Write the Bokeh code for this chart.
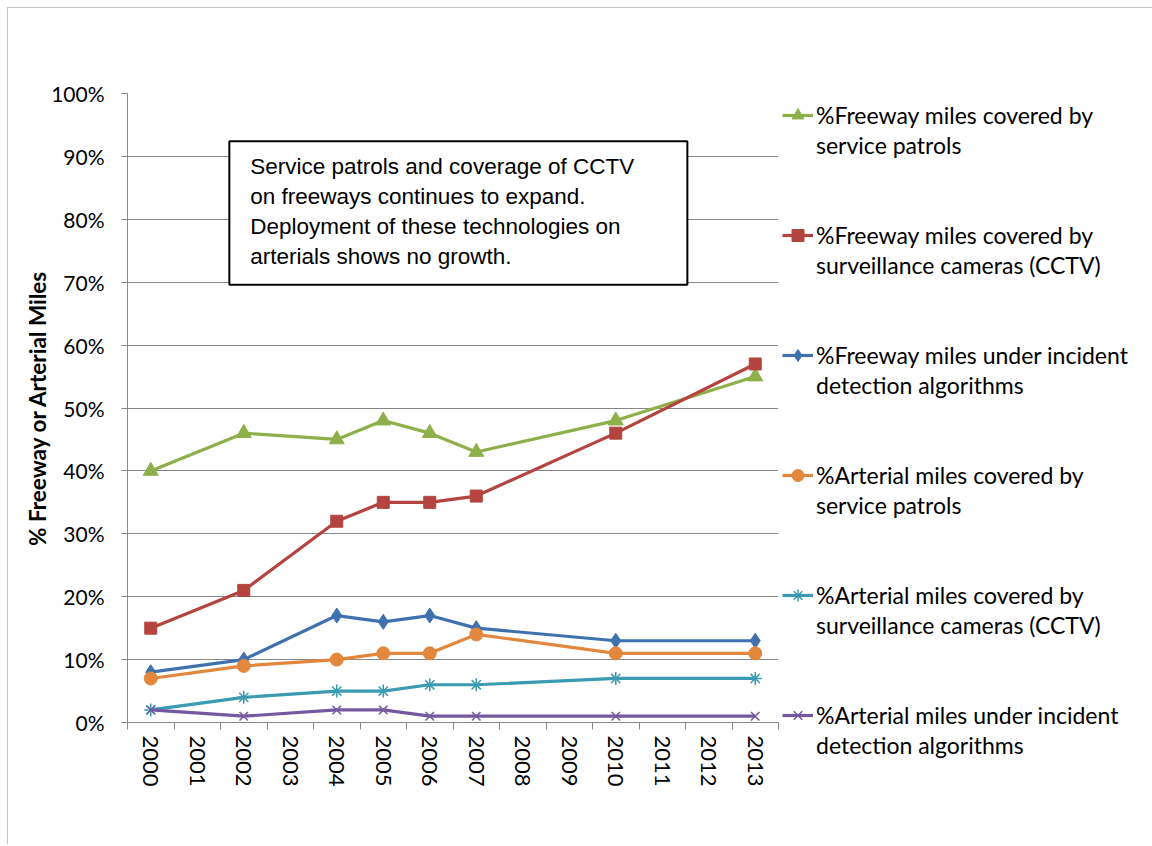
from bokeh.plotting import figure
from bokeh.models import (FixedTicker, PrintfTickFormatter, Legend, LegendItem,
                          BoxAnnotation, Label, Range1d)
from bokeh.embed import file_html
from bokeh.resources import INLINE

# ---- data ----
years = [2000, 2002, 2004, 2005, 2006, 2007, 2010, 2013]
axis_years = list(range(2000, 2014))

fwy_patrol = [40, 46, 45, 48, 46, 43, 48, 55]
fwy_cctv = [15, 21, 32, 35, 35, 36, 46, 57]
fwy_detect = [8, 10, 17, 16, 17, 15, 13, 13]
art_patrol = [7, 9, 10, 11, 11, 14, 11, 11]
art_cctv = [2, 4, 5, 5, 6, 6, 7, 7]
art_detect = [2, 1, 2, 2, 1, 1, 1, 1]

labels = [
    ["%Freeway miles covered by", "service patrols"],
    ["%Freeway miles covered by", "surveillance cameras (CCTV)"],
    ["%Freeway miles under incident", "detection algorithms"],
    ["%Arterial miles covered by", "service patrols"],
    ["%Arterial miles covered by", "surveillance cameras (CCTV)"],
    ["%Arterial miles under incident", "detection algorithms"],
]
y_ticks = list(range(0, 101, 10))
note = ("Service patrols and coverage of CCTV\n"
        "on freeways continues to expand.\n"
        "Deployment of these technologies on\n"
        "arterials shows no growth.")

series = [fwy_patrol, fwy_cctv, fwy_detect, art_patrol, art_cctv, art_detect]
colors = ["#8DB04B", "#B4443F", "#3F71AE", "#E2873C", "#3B9BB2", "#7459A0"]
markers = ["triangle", "square", "diamond", "circle", "asterisk", "x"]
msizes = [15, 12, 15, 13, 13, 12]

CHART_FONT = "Lato"
GRID = "#888888"

p = figure(frame_width=651, frame_height=629, output_backend="svg", toolbar_location=None,
           x_range=Range1d(1999.5, 2013.5), y_range=Range1d(0, 100),
           min_border_left=119, min_border_top=85, min_border_right=0,
           min_border_bottom=122)
p.styles = {"margin-left": "7px", "margin-top": "7px",
            "border-left": "1px solid #c4c4c4", "border-top": "1px solid #c4c4c4"}
p.outline_line_color = None
p.background_fill_color = "white"
p.border_fill_color = "white"

# x axis: labels at years, ticks at category boundaries
xa = p.xaxis[0]
xa.ticker = FixedTicker(ticks=axis_years,
                        minor_ticks=[y - 0.5 for y in axis_years] + [axis_years[-1] + 0.5])
xa.major_tick_line_color = None
xa.major_tick_out = 0
xa.major_tick_in = 0
xa.minor_tick_out = 7
xa.minor_tick_in = 0
xa.minor_tick_line_color = GRID
xa.axis_line_color = GRID
xa.major_label_orientation = "vertical"
xa.major_label_standoff = 6
xa.major_label_text_font = CHART_FONT
xa.major_label_text_font_size = "22px"
xa.major_label_text_color = "black"

ya = p.yaxis[0]
ya.ticker = FixedTicker(ticks=y_ticks, minor_ticks=[])
ya.formatter = PrintfTickFormatter(format="%d%%")
ya.major_tick_out = 6
ya.major_tick_in = 0
ya.major_tick_line_color = GRID
ya.axis_line_color = GRID
ya.major_label_standoff = 17
ya.major_label_text_font = CHART_FONT
ya.major_label_text_font_size = "21px"
ya.major_label_text_color = "black"
ya.axis_label = "% Freeway or Arterial Miles"
ya.axis_label_text_font = CHART_FONT
ya.axis_label_text_font_style = "bold"
ya.axis_label_text_font_size = "22.5px"
ya.axis_label_text_color = "black"
ya.axis_label_standoff = -3

p.xgrid.grid_line_color = None
p.ygrid.ticker = FixedTicker(ticks=y_ticks)
p.ygrid.grid_line_color = GRID
p.ygrid.grid_line_width = 1

dummy = p.line(x=[], y=[], line_alpha=0)

items = []
for i, (vals, c, m, s) in enumerate(zip(series, colors, markers, msizes)):
    lr = p.line(years, vals, line_color=c, line_width=3.2)
    if m in ("asterisk", "x"):
        sr = p.scatter(years, vals, marker=m, size=s, line_color=c, line_width=1.5,
                       fill_color=None)
    else:
        sr = p.scatter(years, vals, marker=m, size=s, line_color=c, fill_color=c)
    items.append(LegendItem(label=labels[i][0], renderers=[lr, sr]))
    items.append(LegendItem(label=labels[i][1], renderers=[dummy]))
    if i < len(series) - 1:
        items.append(LegendItem(label=" ", renderers=[dummy]))
        items.append(LegendItem(label="  ", renderers=[dummy]))

legend = Legend(items=items, location=(4, -38), orientation="vertical",
                glyph_width=31, glyph_height=30, label_height=30, spacing=0,
                padding=0, margin=0, label_standoff=3,
                label_text_font=CHART_FONT, label_text_font_size="23px",
                label_text_color="black",
                border_line_color=None, background_fill_alpha=0)
p.add_layout(legend, "right")

# text box annotation
box = BoxAnnotation(left=2001.69, right=2011.54, top=92.4, bottom=69.6,
                    fill_color="white", fill_alpha=1.0,
                    line_color="black", line_alpha=1.0, line_width=2)
p.add_layout(box)
lab = Label(x=2002.14, y=90.4, text=note, text_baseline="top", text_align="left",
            text_font="Liberation Sans", text_font_size="22.5px",
            text_line_height=1.2, text_color="black")
p.add_layout(lab)

open("out.html", "w").write(file_html(p, INLINE))
